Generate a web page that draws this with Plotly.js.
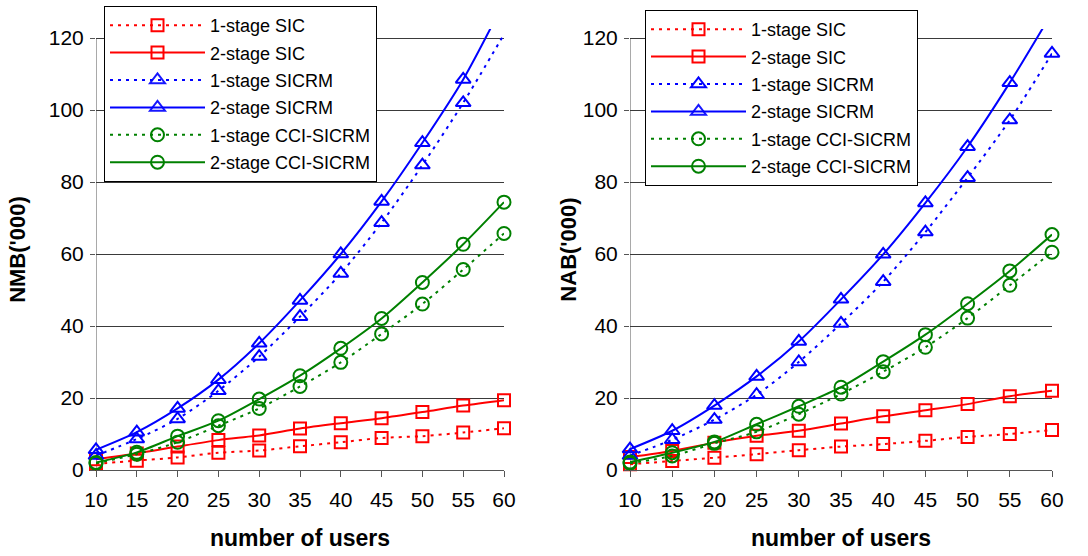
<!DOCTYPE html>
<html>
<head>
<meta charset="utf-8">
<script src="https://cdn.plot.ly/plotly-3.0.1.min.js"></script>
<style>
  html, body { margin: 0; padding: 0; background: #fff; }
  #chart { width: 1088px; height: 556px; }
</style>
</head>
<body>
<div id="chart"></div>
<script>
// Number of users on the shared x axis
const users = [10, 15, 20, 25, 30, 35, 40, 45, 50, 55, 60];

// Left panel: NMB ('000)
const nmbSic1   = [1.7, 2.6, 3.5, 4.8, 5.4, 6.6, 7.7, 8.9, 9.4, 10.4, 11.6];
const nmbSic2   = [3.0, 4.6, 6.5, 8.3, 9.6, 11.5, 13.0, 14.4, 16.1, 17.9, 19.4];
const nmbSicrm1 = [4.0, 8.6, 14.2, 22.0, 31.5, 42.6, 54.6, 68.7, 84.7, 102.0, 121.0];
const nmbSicrm2 = [5.6, 10.5, 17.1, 25.1, 35.2, 47.1, 60.0, 74.6, 90.9, 108.5, 130.0];
const nmbCci1   = [1.9, 4.4, 7.7, 12.3, 17.1, 23.2, 29.9, 37.8, 46.1, 55.7, 65.7];
const nmbCci2   = [2.1, 4.9, 9.4, 13.7, 19.7, 26.2, 33.8, 42.1, 52.1, 62.7, 74.4];

// Right panel: NAB ('000)
const nabSic1   = [1.6, 2.5, 3.4, 4.4, 5.5, 6.5, 7.2, 8.1, 9.2, 10.0, 11.1];
const nabSic2   = [3.6, 5.3, 7.6, 9.5, 10.9, 12.9, 14.9, 16.6, 18.3, 20.5, 22.0];
const nabSicrm1 = [4.0, 8.4, 14.0, 20.9, 30.0, 40.7, 52.3, 66.1, 81.2, 97.2, 115.7];
const nabSicrm2 = [5.8, 10.9, 17.9, 26.0, 35.7, 47.4, 59.9, 74.2, 89.8, 107.6, 127.0];
const nabCci1   = [1.9, 3.9, 7.4, 10.6, 15.5, 21.1, 27.3, 34.1, 42.2, 51.3, 60.5];
const nabCci2   = [2.2, 4.8, 7.8, 12.7, 17.7, 23.0, 30.1, 37.6, 46.2, 55.3, 65.4];

const seriesNames = ['1-stage SIC', '2-stage SIC', '1-stage SICRM', '2-stage SICRM',
                     '1-stage CCI-SICRM', '2-stage CCI-SICRM'];
const yTicks = [0, 20, 40, 60, 80, 100, 120];
const yMax = 120;

const RED = '#ff0000', BLUE = '#0000ff', GREEN = '#008000';
const styles = [
  { color: RED,   symbol: 'square-open',      dash: '3px,5px', size: 12 },
  { color: RED,   symbol: 'square-open',      dash: 'solid',   size: 12 },
  { color: BLUE,  symbol: 'triangle-up-open', dash: '3px,5px', size: 13 },
  { color: BLUE,  symbol: 'triangle-up-open', dash: 'solid',   size: 13 },
  { color: GREEN, symbol: 'circle-open',      dash: '3px,5px', size: 13 },
  { color: GREEN, symbol: 'circle-open',      dash: 'solid',   size: 13 }
];

function makeTraces(seriesList, xa, ya, legendId, prefix) {
  return seriesList.map((vals, i) => {
    const st = styles[i];
    return {
      type: 'scatter', mode: 'lines+markers',
      x: users, y: vals, xaxis: xa, yaxis: ya,
      name: seriesNames[i], legend: legendId, legendgroup: prefix + i,
      cliponaxis: false,
      line: { color: st.color, width: 2, dash: st.dash, shape: 'spline', smoothing: 0.8 },
      marker: {
        symbol: st.symbol, size: st.size, color: st.color,
        line: { color: st.color, width: 2 },
        // points beyond the axis maximum get no marker
        opacity: vals.map(v => (v > yMax ? 0 : 1))
      },
      hoverinfo: 'x+y+name'
    };
  });
}

const traces = [].concat(
  makeTraces([nmbSic1, nmbSic2, nmbSicrm1, nmbSicrm2, nmbCci1, nmbCci2], 'x', 'y', 'legend', 'L'),
  makeTraces([nabSic1, nabSic2, nabSicrm1, nabSicrm2, nabCci1, nabCci2], 'x2', 'y2', 'legend2', 'R')
);

const AX = '#555555';
const FONT = 'Arial, "Liberation Sans", sans-serif';

function xAxis(domain, anchor) {
  return {
    domain: domain, anchor: anchor, range: [10, 60],
    tickvals: users, ticktext: users.map(String),
    ticks: 'outside', ticklen: 6, tickwidth: 1, tickcolor: AX,
    ticklabelstandoff: 5,
    showline: true, linecolor: AX, linewidth: 1,
    showgrid: false, zeroline: false,
    tickfont: { family: FONT, size: 21, color: '#000' },
    title: { text: 'number of users', standoff: 19,
             font: { family: FONT, size: 23, color: '#000', weight: 'bold' } },
    fixedrange: true
  };
}
function yAxis(anchor, label, standoff) {
  return {
    domain: [1 - 470 / 556, 1 - 29 / 556], anchor: anchor, range: [0, 122.5],
    tickvals: yTicks, ticktext: yTicks.map(String),
    ticks: 'outside', ticklen: 5, tickwidth: 1, tickcolor: AX,
    ticklabelstandoff: 2,
    showline: false, zeroline: false,
    showgrid: true, gridcolor: '#3a3a3a', gridwidth: 1,
    tickfont: { family: FONT, size: 21, color: '#000' },
    title: { text: label, standoff: standoff,
             font: { family: FONT, size: 22, color: '#000', weight: 'bold' } },
    fixedrange: true
  };
}

function legendBox(x, y) {
  return {
    x: x, y: y, xanchor: 'left', yanchor: 'top',
    bgcolor: '#ffffff', bordercolor: '#000000', borderwidth: 1,
    font: { family: FONT, size: 18, color: '#000' },
    itemwidth: 95, tracegroupgap: 1, traceorder: 'grouped',
    itemclick: false, itemdoubleclick: false
  };
}

// y axis lines stop at the top tick value
const axisLines = [
  { type: 'line', xref: 'x', yref: 'y', x0: 10, x1: 10, y0: 0, y1: yMax,
    line: { color: AX, width: 1 }, layer: 'below' },
  { type: 'line', xref: 'x2', yref: 'y2', x0: 10, x1: 10, y0: 0, y1: yMax,
    line: { color: AX, width: 1 }, layer: 'below' }
];

const layout = {
  width: 1088, height: 556,
  margin: { l: 0, r: 0, t: 0, b: 0 },
  paper_bgcolor: '#ffffff', plot_bgcolor: '#ffffff',
  showlegend: true,
  xaxis: xAxis([96 / 1088, 504 / 1088], 'y'),
  yaxis: yAxis('x', "NMB('000)", 17),
  xaxis2: xAxis([630 / 1088, 1052 / 1088], 'y2'),
  yaxis2: yAxis('x2', "NAB('000)", 0),
  legend: legendBox(104 / 1088, 1 - 6 / 556),
  legend2: legendBox(645 / 1088, 1 - 10 / 556),
  shapes: axisLines
};

Plotly.newPlot('chart', traces, layout, { displayModeBar: false, staticPlot: true });
</script>
</body>
</html>
